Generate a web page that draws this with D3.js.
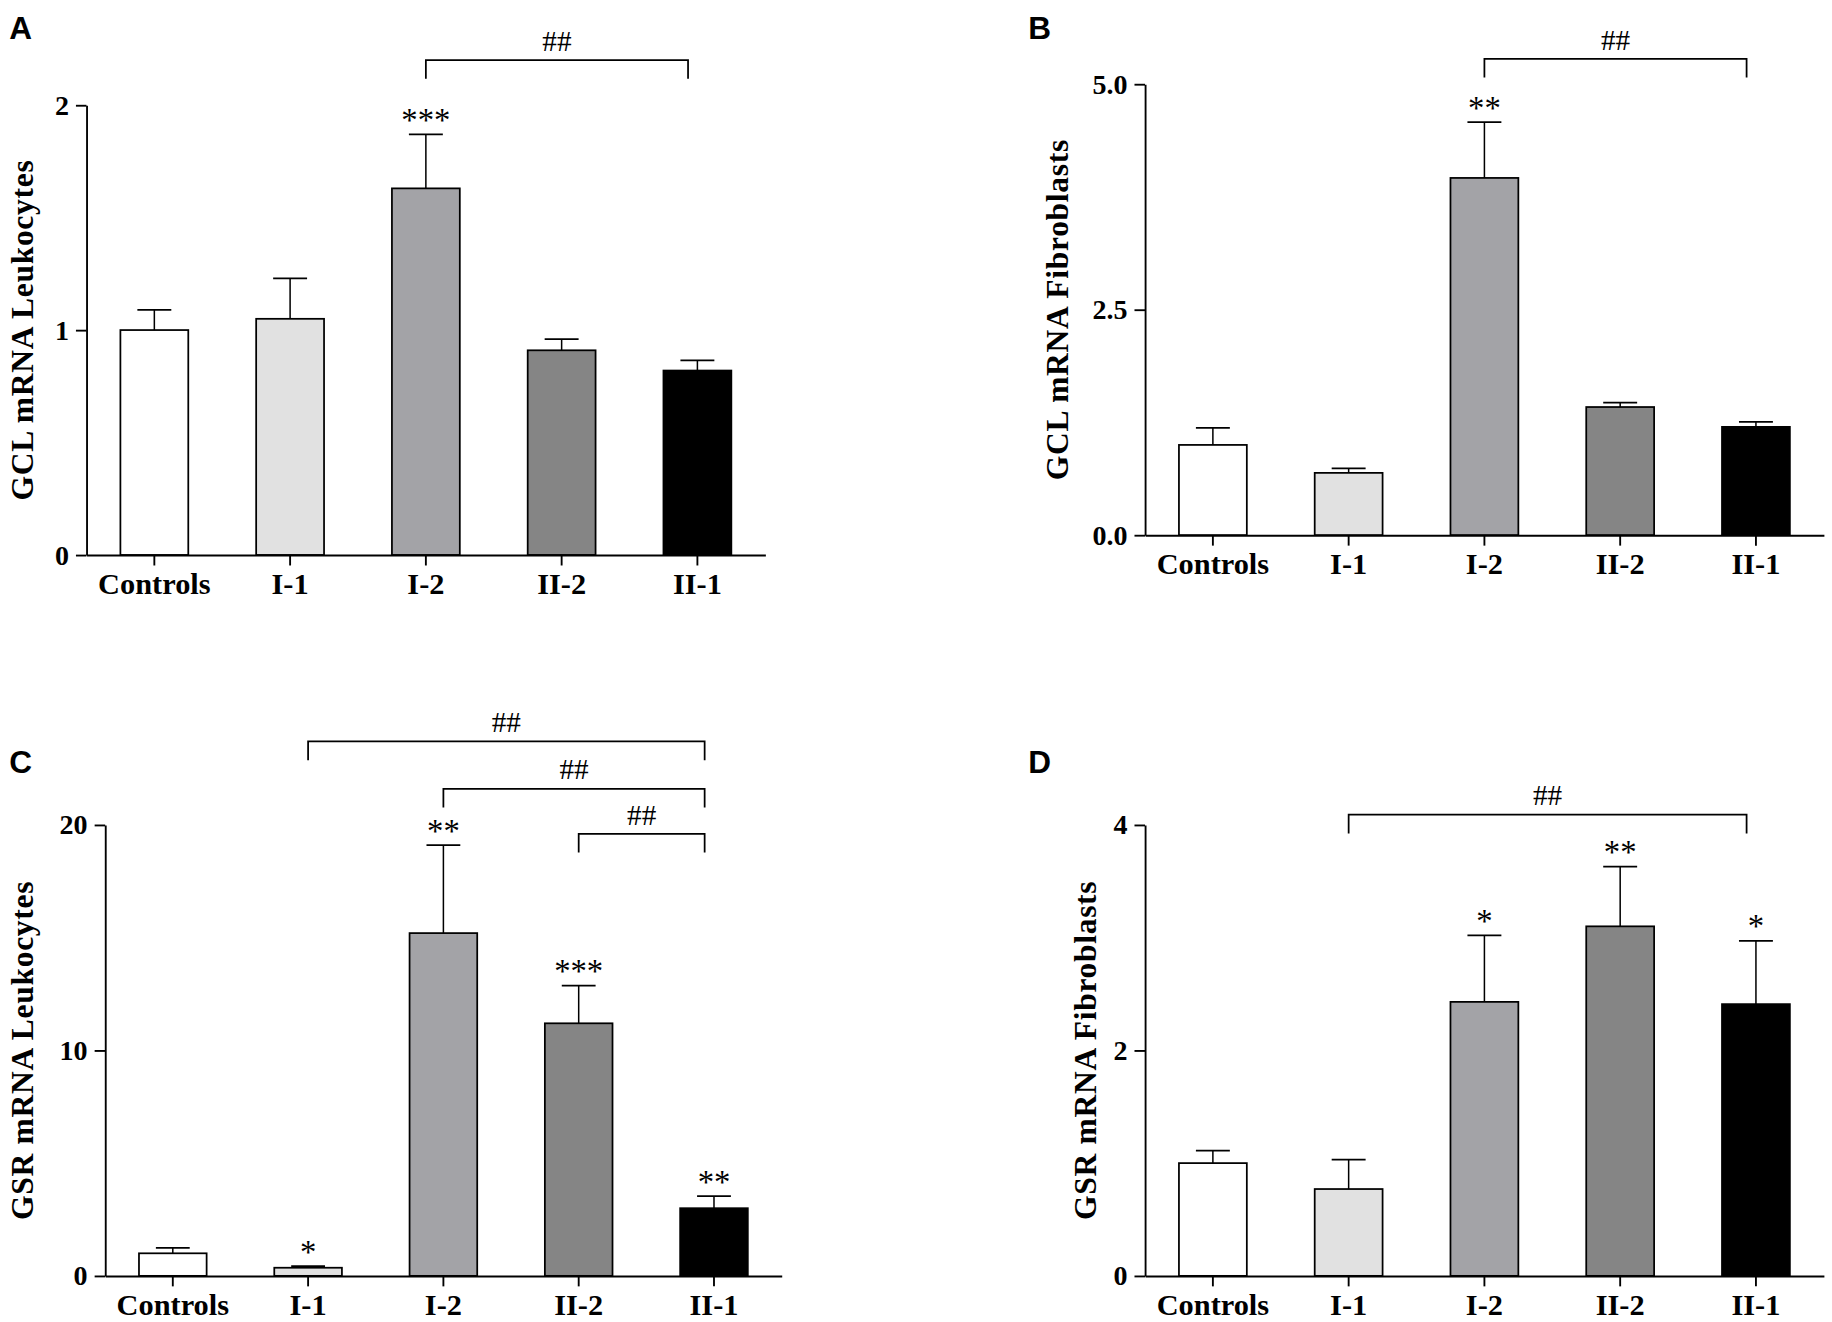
<!DOCTYPE html>
<html>
<head>
<meta charset="utf-8">
<script src="https://cdn.jsdelivr.net/npm/d3@7"></script>
<style>
  body { margin: 0; background: #fff; }
  svg { display: block; }
</style>
</head>
<body>
<svg id="fig"></svg>
<script>
"use strict";

// groups shared by all four panels
const groups = ["Controls", "I-1", "I-2", "II-2", "II-1"];
const barFills = ["#ffffff", "#e1e1e1", "#a3a3a7", "#858585", "#000000"];

// A: GCL mRNA, leukocytes
const gclLeukoMean  = [1.00, 1.05, 1.63, 0.91, 0.82];
const gclLeukoErr   = [0.09, 0.18, 0.24, 0.05, 0.045];
const gclLeukoStars = ["", "", "***", "", ""];
const gclLeukoTicks = [0, 1, 2];
const gclLeukoBrackets = [{ from: "I-2", to: "II-1", level: 2.2, label: "##" }];

// B: GCL mRNA, fibroblasts
const gclFibroMean  = [1.00, 0.69, 3.96, 1.42, 1.20];
const gclFibroErr   = [0.19, 0.05, 0.62, 0.05, 0.055];
const gclFibroStars = ["", "", "**", "", ""];
const gclFibroTicks = [0, 2.5, 5];
const gclFibroBrackets = [{ from: "I-2", to: "II-1", level: 5.28, label: "##" }];

// C: GSR mRNA, leukocytes
const gsrLeukoMean  = [1.00, 0.36, 15.2, 11.2, 3.0];
const gsrLeukoErr   = [0.24, 0.07, 3.9, 1.67, 0.54];
const gsrLeukoStars = ["", "*", "**", "***", "**"];
const gsrLeukoTicks = [0, 10, 20];
const gsrLeukoBrackets = [
  { from: "I-1",  to: "II-1", level: 23.7, label: "##" },
  { from: "I-2",  to: "II-1", level: 21.6, label: "##" },
  { from: "II-2", to: "II-1", level: 19.6, label: "##" }
];

// D: GSR mRNA, fibroblasts
const gsrFibroMean  = [1.00, 0.77, 2.43, 3.10, 2.41];
const gsrFibroErr   = [0.11, 0.26, 0.59, 0.53, 0.56];
const gsrFibroStars = ["", "", "*", "**", "*"];
const gsrFibroTicks = [0, 2, 4];
const gsrFibroBrackets = [{ from: "I-1", to: "II-1", level: 4.09, label: "##" }];

const W = 1832, H = 1322;
const VW = 1568, VH = VW * H / W;   // drawing units
const SERIF = "'Liberation Serif', 'Times New Roman', serif";
const SANS = "'Liberation Sans', Arial, sans-serif";

const panels = [
  { letter: "A", title: "GCL mRNA Leukocytes", mean: gclLeukoMean, err: gclLeukoErr,
    stars: gclLeukoStars, ticks: gclLeukoTicks, brackets: gclLeukoBrackets, fmt: d3.format("d"),
    x0: 74, x1: 655, yTop: 90, yBot: 475, titleX: 19, letterX: 8, letterY: 33 },
  { letter: "B", title: "GCL mRNA Fibroblasts", mean: gclFibroMean, err: gclFibroErr,
    stars: gclFibroStars, ticks: gclFibroTicks, brackets: gclFibroBrackets, fmt: d3.format(".1f"),
    x0: 980, x1: 1561, yTop: 72, yBot: 458, titleX: 905, letterX: 880, letterY: 33 },
  { letter: "C", title: "GSR mRNA Leukocytes", mean: gsrLeukoMean, err: gsrLeukoErr,
    stars: gsrLeukoStars, ticks: gsrLeukoTicks, brackets: gsrLeukoBrackets, fmt: d3.format("d"),
    x0: 90, x1: 669, yTop: 706, yBot: 1092, titleX: 19, letterX: 8, letterY: 662 },
  { letter: "D", title: "GSR mRNA Fibroblasts", mean: gsrFibroMean, err: gsrFibroErr,
    stars: gsrFibroStars, ticks: gsrFibroTicks, brackets: gsrFibroBrackets, fmt: d3.format("d"),
    x0: 980, x1: 1561, yTop: 706, yBot: 1092, titleX: 929, letterX: 880, letterY: 662 }
];

const svg = d3.select("#fig")
  .attr("width", W).attr("height", H)
  .attr("viewBox", `0 0 ${VW} ${VH}`);

svg.append("rect").attr("width", VW).attr("height", VH).attr("fill", "#fff");

panels.forEach(drawPanel);

function drawPanel(p) {
  const g = svg.append("g");
  const x = d3.scaleBand().domain(groups).range([p.x0, p.x1])
    .paddingInner(0.5).paddingOuter(0.25);
  const y = d3.scaleLinear().domain([0, d3.max(p.ticks)]).range([p.yBot, p.yTop]);
  const bw = x.bandwidth();
  const cx = i => x(groups[i]) + bw / 2;

  const rows = groups.map((name, i) => ({
    name: name, i: i, mean: p.mean[i], err: p.err[i], star: p.stars[i], fill: barFills[i]
  }));

  // bars
  g.selectAll("rect.bar").data(rows).join("rect")
    .attr("class", "bar")
    .attr("x", d => x(d.name))
    .attr("y", d => y(d.mean))
    .attr("width", bw)
    .attr("height", d => y(0) - y(d.mean))
    .attr("fill", d => d.fill)
    .attr("stroke", "#000")
    .attr("stroke-width", 1.5);

  // upper error bars
  g.selectAll("line.err").data(rows).join("line")
    .attr("class", "err")
    .attr("x1", d => cx(d.i)).attr("x2", d => cx(d.i))
    .attr("y1", d => y(d.mean)).attr("y2", d => y(d.mean + d.err))
    .attr("stroke", "#000").attr("stroke-width", 1.3);
  g.selectAll("line.cap").data(rows).join("line")
    .attr("class", "cap")
    .attr("x1", d => cx(d.i) - bw / 4).attr("x2", d => cx(d.i) + bw / 4)
    .attr("y1", d => y(d.mean + d.err)).attr("y2", d => y(d.mean + d.err))
    .attr("stroke", "#000").attr("stroke-width", 1.5);

  // significance stars
  g.selectAll("text.star").data(rows.filter(d => d.star)).join("text")
    .attr("class", "star")
    .attr("x", d => cx(d.i))
    .attr("y", d => y(d.mean + d.err) - 3)
    .attr("text-anchor", "middle")
    .attr("font-family", SERIF)
    .attr("font-size", 28)
    .text(d => d.star);

  // group comparison brackets
  p.brackets.forEach(b => {
    const xa = x(b.from) + bw / 2;
    const xb = x(b.to) + bw / 2 - 8;
    const yb = y(b.level);
    g.append("path")
      .attr("d", `M${xa},${yb + 16}V${yb}H${xb}V${yb + 16}`)
      .attr("fill", "none").attr("stroke", "#000").attr("stroke-width", 1.5);
    g.append("text")
      .attr("x", (xa + xb) / 2).attr("y", yb - 8)
      .attr("text-anchor", "middle")
      .attr("font-family", SERIF).attr("font-size", 25)
      .text(b.label);
  });

  // y axis
  const yAxis = g.append("g")
    .attr("transform", `translate(${p.x0},0)`)
    .call(d3.axisLeft(y).tickValues(p.ticks).tickFormat(p.fmt).tickSize(9).tickSizeOuter(0).tickPadding(6));
  yAxis.select(".domain").attr("stroke-width", 1.6);
  yAxis.selectAll(".tick line").attr("stroke-width", 1.6);
  yAxis.selectAll(".tick text")
    .attr("font-family", SERIF).attr("font-weight", "bold").attr("font-size", 24)
    .attr("fill", "#000");

  // x axis
  const xAxis = g.append("g")
    .attr("transform", `translate(0,${p.yBot})`)
    .call(d3.axisBottom(x).tickSize(9).tickSizeOuter(0).tickPadding(6));
  xAxis.select(".domain").attr("stroke-width", 1.6);
  xAxis.selectAll(".tick line").attr("stroke-width", 1.6);
  xAxis.selectAll(".tick text")
    .attr("font-family", SERIF).attr("font-weight", "bold").attr("font-size", 26)
    .attr("fill", "#000");

  // axis title
  g.append("text")
    .attr("transform", `translate(${p.titleX},${(p.yTop + p.yBot) / 2}) rotate(-90)`)
    .attr("text-anchor", "middle")
    .attr("dominant-baseline", "central")
    .attr("font-family", SERIF).attr("font-weight", "bold").attr("font-size", 27)
    .attr("letter-spacing", 0.6)
    .text(p.title);

  // panel letter
  g.append("text")
    .attr("x", p.letterX).attr("y", p.letterY)
    .attr("font-family", SANS).attr("font-weight", "bold").attr("font-size", 27)
    .text(p.letter);
}
</script>
</body>
</html>
